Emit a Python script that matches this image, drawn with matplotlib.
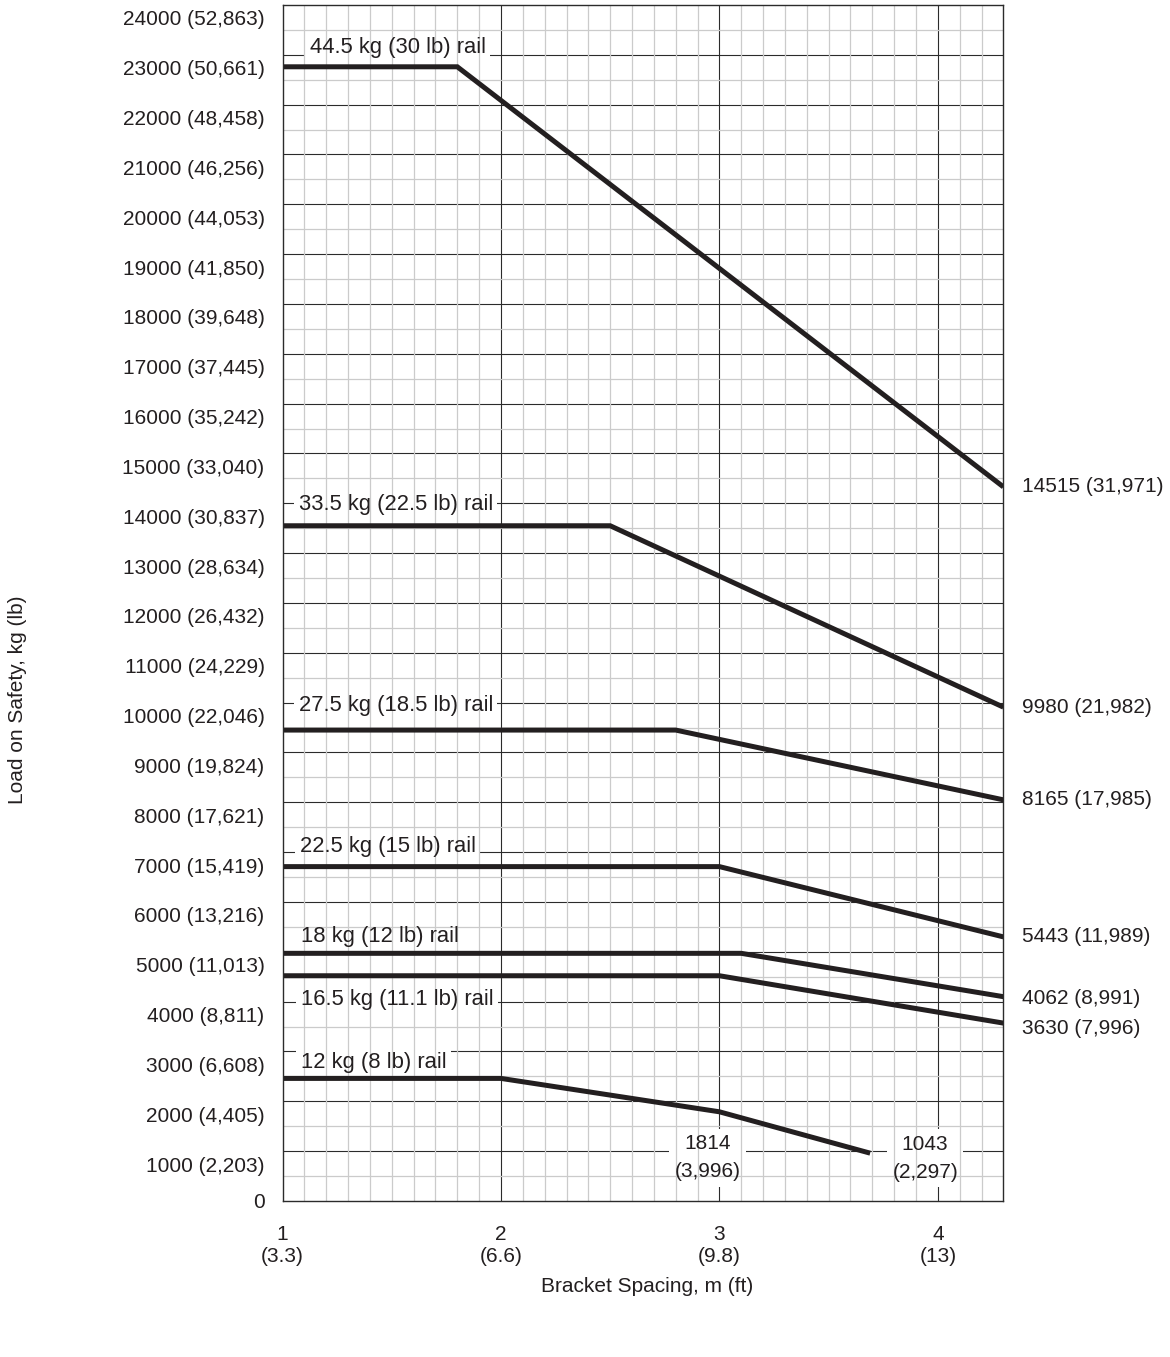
import numpy as np
import matplotlib.pyplot as plt

plt.rcParams["font.family"] = ["Liberation Sans", "DejaVu Sans"]
plt.rcParams["font.size"] = 15

# data (kg on y, bracket spacing in m on x)
rail_names = [
    "44.5 kg (30 lb) rail",
    "33.5 kg (22.5 lb) rail",
    "27.5 kg (18.5 lb) rail",
    "22.5 kg (15 lb) rail",
    "18 kg (12 lb) rail",
    "16.5 kg (11.1 lb) rail",
    "12 kg (8 lb) rail",
]
rail_x = [
    [1.0, 1.8, 4.3],
    [1.0, 2.5, 4.3],
    [1.0, 2.8, 4.3],
    [1.0, 3.0, 4.3],
    [1.0, 3.1, 4.3],
    [1.0, 3.0, 4.3],
    [1.0, 2.0, 3.0, 3.69],
]
rail_y = [
    [22760, 22760, 14330],
    [13550, 13550, 9910],
    [9450, 9450, 8050],
    [6710, 6710, 5300],
    [4970, 4970, 4100],
    [4520, 4520, 3570],
    [2460, 2460, 1790, 960],
]
end_labels = [
    "14515 (31,971)",
    "9980 (21,982)",
    "8165 (17,985)",
    "5443 (11,989)",
    "4062 (8,991)",
    "3630 (7,996)",
]
small_labels = ["1814\n(3,996)", "1043\n(2,297)"]

y_ticks = list(range(0, 25000, 1000))
y_tick_labels = [
    "0", "1000 (2,203)", "2000 (4,405)", "3000 (6,608)", "4000 (8,811)",
    "5000 (11,013)", "6000 (13,216)", "7000 (15,419)", "8000 (17,621)",
    "9000 (19,824)", "10000 (22,046)", "11000 (24,229)", "12000 (26,432)",
    "13000 (28,634)", "14000 (30,837)", "15000 (33,040)", "16000 (35,242)",
    "17000 (37,445)", "18000 (39,648)", "19000 (41,850)", "20000 (44,053)",
    "21000 (46,256)", "22000 (48,458)", "23000 (50,661)", "24000 (52,863)",
]
x_ticks = [1, 2, 3, 4]
x_tick_labels = ["1\n(3.3)", "2\n(6.6)", "3\n(9.8)", "4\n(13)"]

# where the rail names sit: grid line, vertical anchor, pixel nudges
name_anchor = [
    (23000, "baseline", 27, 2),
    (14000, "center", 16, -1),
    (10000, "center", 16, -3),
    (7000, "baseline", 17, 0),
    (5200, "baseline", 18, 0),
    (4000, "center", 18, 2),
    (3000, "top", 18, -1),
]
end_nudge = [0, 0, 0, 0, -2, -5]

INK = "#231f20"
XMAX = 4.3

fig = plt.figure(figsize=(11.7, 13.57), dpi=100)
ax = fig.add_axes([0.2415, 0.11496, 0.6161, 0.88136])
ax.set_xlim(1, XMAX)
ax.set_ylim(0, 24000)

# grid drawn by hand so the dark lines can be broken under labels
x_major = np.arange(2, 5)
x_major = x_major[x_major < XMAX]
y_major = np.arange(1000, 24000, 1000)
x_minor = [v for v in np.arange(1.1, XMAX, 0.1) if abs(v - round(v)) > 1e-6]
y_minor = np.arange(500, 24000, 1000)
ax.vlines(x_major, 0, 24000, color="#2b2b2b", lw=0.8, zorder=1)
ax.hlines(y_major, 1, XMAX, color="#2b2b2b", lw=0.8, zorder=1)
ax.vlines(x_minor, 0, 24000, color="#cbcbcb", lw=0.9, zorder=2)
ax.hlines(y_minor, 1, XMAX, color="#cbcbcb", lw=0.9, zorder=2)

for xs, ys in zip(rail_x, rail_y):
    ax.plot(xs, ys, color=INK, lw=3.6, solid_capstyle="butt",
            solid_joinstyle="miter", zorder=3)

# rail names: white ghost box hides the dark grid line, text on top
for name, (gy, va, dx, dy) in zip(rail_names, name_anchor):
    for col, box, z in [("none", dict(boxstyle="square,pad=0.2", fc="white", ec="none"), 1.5),
                        (INK, None, 4)]:
        ax.annotate(name, xy=(1, gy), xytext=(dx, dy), textcoords="offset pixels",
                    ha="left", va=va, color=col, bbox=box, zorder=z, fontsize=15.8)

# end values at the right edge
for lab, xs, ys, dy in zip(end_labels, rail_x, rail_y, end_nudge):
    ax.annotate(lab, xy=(xs[-1], ys[-1]), xytext=(19, dy), textcoords="offset pixels",
                ha="left", va="center", color=INK, annotation_clip=False)

# two values under the 12 kg rail
small_off = [(-12, -46), (55, -5)]
for lab, xv, yv, (dx, dy) in zip(small_labels, rail_x[-1][2:], rail_y[-1][2:], small_off):
    for col, box, z in [("none", dict(boxstyle="square,pad=0.25", fc="white", ec="none"), 1.5),
                        (INK, None, 4)]:
        ax.annotate(lab, xy=(xv, yv), xytext=(dx, dy), textcoords="offset pixels",
                    ha="center", va="center", linespacing=1.6, color=col,
                    bbox=box, zorder=z)

# y labels sit a little below their grid lines
for v, lab in zip(y_ticks, y_tick_labels):
    ax.annotate(lab, xy=(0, v), xycoords=("axes fraction", "data"),
                xytext=(-18, -15 if v else -2), textcoords="offset pixels",
                ha="right", va="center", color=INK, annotation_clip=False)
ax.set_yticks([])

ax.set_xticks(x_ticks)
ax.set_xticklabels(x_tick_labels, linespacing=1.25, color=INK)
ax.tick_params(axis="x", length=0, pad=17)

for s in ax.spines.values():
    s.set_color("#2b2b2b")
    s.set_linewidth(1.0)
    s.set_zorder(5)

fig.text(18 / 1170, 1 - 700 / 1357, "Load on Safety, kg (lb)", rotation=90,
         ha="center", va="center", color=INK)
fig.text(647 / 1170, 1 - 1286 / 1357, "Bracket Spacing, m (ft)",
         ha="center", va="center", color=INK)

fig.savefig("out.png", dpi=100)
